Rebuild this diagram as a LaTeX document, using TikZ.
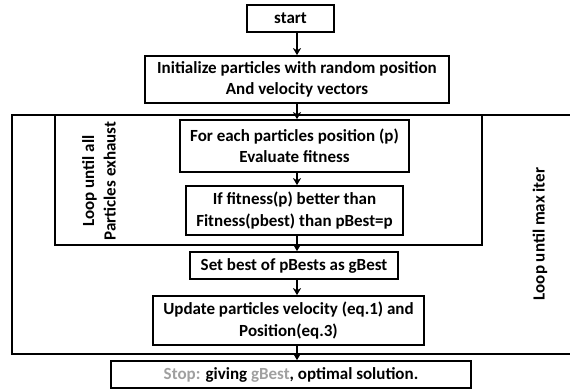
\documentclass[tikz,border=0pt]{standalone}
\usepackage{fontspec}
\setmainfont{Carlito}
\usetikzlibrary{arrows.meta}
\definecolor{stopgray}{HTML}{A0A0A0}
\begin{document}
\begin{tikzpicture}[x=1pt,y=-1pt,
  every node/.style={font=\bfseries\fontsize{17}{21.5}\selectfont},
  flowbox/.style={draw,line width=1.7pt,inner sep=0pt,align=center},
  framebox/.style={draw,line width=1.4pt,inner sep=0pt},
  arr/.style={line width=1.5pt,-{Stealth[length=7pt,width=8pt,inset=2pt]}},
  looplabel/.style={rotate=90,align=center,inner sep=0pt}]
\useasboundingbox (0,0) rectangle (570,391);
% outer loop frame (right side runs past the page edge)
\draw[line width=1.4pt] (575,115) -- (12,115) -- (12,354) -- (575,354);
\node[framebox,minimum width=427pt,minimum height=130pt] (inner) at (268.5,180) {};
\node[flowbox,minimum width=87pt,minimum height=27pt] (start) at (290.5,18.5) {start};
\node[flowbox,minimum width=304pt,minimum height=47pt] (init) at (297,79.5) {Initialize particles with random position\\And velocity vectors};
\node[flowbox,minimum width=229pt,minimum height=52pt] (foreach) at (294.5,146) {For each particles position (p)\\Evaluate fitness};
\node[flowbox,minimum width=217pt,minimum height=49pt] (iffit) at (294.5,210.5) {If fitness(p) better than\\Fitness(pbest) than pBest=p};
\node[flowbox,minimum width=208pt,minimum height=27pt] (setbest) at (294,265.5) {Set best of pBests as gBest};
\node[flowbox,minimum width=271pt,minimum height=49pt] (update) at (288.5,320.5) {Update particles velocity (eq.1) and\\Position(eq.3)};
\node[flowbox,minimum width=360pt,minimum height=27pt] (stop) at (291,374.5) {\textcolor{stopgray}{Stop:} giving \textcolor{stopgray}{gBest}, optimal solution.};
\node[looplabel] (innerlabel) at (99,181) {Loop until all\\Particles exhaust};
\node[looplabel] (outerlabel) at (540,234) {Loop until max iter};
\coordinate (ax) at (297,0);
\draw[arr] (start.south -| ax) -- (init.north -| ax);
\draw[arr] (init.south -| ax) -- (foreach.north -| ax);
\draw[arr] (foreach.south -| ax) -- (iffit.north -| ax);
\draw[arr] (iffit.south -| ax) -- (setbest.north -| ax);
\draw[arr] (setbest.south -| ax) -- (update.north -| ax);
\draw[arr] (update.south -| ax) -- (stop.north -| ax);
\end{tikzpicture}
\end{document}
